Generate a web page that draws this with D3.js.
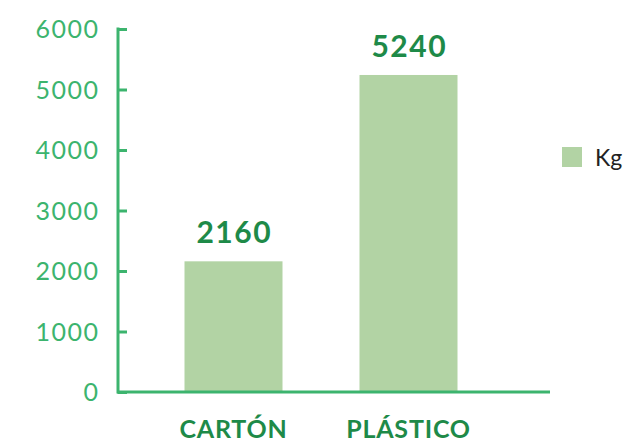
<!DOCTYPE html>
<html>
<head>
<meta charset="utf-8">
<script src="https://cdn.jsdelivr.net/npm/d3@7"></script>
<style>
  body { margin: 0; background: #fff; }
  svg { display: block; font-family: Lato, "Open Sans", sans-serif; }
</style>
</head>
<body>
<div id="chart"></div>
<script>
let categories = ['CARTÓN', 'PLÁSTICO'];
let values = [2160, 5240];
let yTicks = [0, 1000, 2000, 3000, 4000, 5000, 6000];
let seriesName = 'Kg';

let w = 625;
let h = 443;
let axisGreen = '#3cb46e';
let barColor = '#b2d3a4';
let darkGreen = '#1e8a48';

let yScale = d3.scaleLinear()
               .domain([0, 6000])
               .range([392, 29]);
let xScale = d3.scaleBand()
               .domain(categories)
               .range([146, 496])
               .paddingInner(0.44)
               .paddingOuter(0.22);

let svg = d3.select('#chart')
            .append('svg')
            .attr('width', w)
            .attr('height', h);

// bars
svg.selectAll('rect.bar')
   .data(values)
   .enter()
   .append('rect')
   .attr('class', 'bar')
   .attr('x', (d, i) => xScale(categories[i]))
   .attr('y', (d) => yScale(d))
   .attr('width', xScale.bandwidth())
   .attr('height', (d) => yScale(0) - yScale(d))
   .attr('fill', barColor);

// value labels
svg.selectAll('text.val')
   .data(values)
   .enter()
   .append('text')
   .attr('class', 'val')
   .attr('x', (d, i) => xScale(categories[i]) + xScale.bandwidth() / 2 + 0.75)
   .attr('y', (d) => yScale(d) - 18)
   .attr('text-anchor', 'middle')
   .attr('fill', darkGreen)
   .style('font-weight', 'bold')
   .style('font-size', '30px')
   .style('letter-spacing', '1.5px')
   .text((d) => d);

// y axis
let yAxis = d3.axisRight(yScale)
              .tickValues(yTicks)
              .tickSize(9)
              .tickFormat('');
let gy = svg.append('g')
            .attr('transform', 'translate(118, 0)')
            .call(yAxis);
gy.select('.domain').remove();
gy.selectAll('line').attr('stroke', axisGreen).attr('stroke-width', 3);
gy.append('line')
  .attr('x1', 0).attr('x2', 0)
  .attr('y1', yScale(6000) - 1.5).attr('y2', yScale(0) + 1.5)
  .attr('stroke', axisGreen)
  .attr('stroke-width', 3);

svg.selectAll('text.ytick')
   .data(yTicks)
   .enter()
   .append('text')
   .attr('class', 'ytick')
   .attr('x', 99.5)
   .attr('y', (d) => yScale(d) + 9)
   .attr('text-anchor', 'end')
   .attr('fill', axisGreen)
   .style('font-size', '25px')
   .style('letter-spacing', '1.5px')
   .text((d) => d);

// x axis
svg.append('line')
   .attr('x1', 117).attr('x2', 550)
   .attr('y1', yScale(0)).attr('y2', yScale(0))
   .attr('stroke', axisGreen)
   .attr('stroke-width', 3);

svg.selectAll('text.cat')
   .data(categories)
   .enter()
   .append('text')
   .attr('class', 'cat')
   .attr('x', (d) => xScale(d) + xScale.bandwidth() / 2)
   .attr('y', 438)
   .attr('text-anchor', 'middle')
   .attr('fill', darkGreen)
   .style('font-weight', 'bold')
   .style('font-size', '25px')
   .style('letter-spacing', '0.8px')
   .text((d) => d);

// legend
let legend = svg.append('g').attr('id', 'legend');
legend.append('rect')
      .attr('x', 562).attr('y', 147)
      .attr('width', 20).attr('height', 20)
      .attr('fill', barColor);
legend.append('text')
      .attr('x', 595).attr('y', 166)
      .attr('fill', '#222')
      .style('font-size', '23px')
      .text(seriesName);
</script>
</body>
</html>
